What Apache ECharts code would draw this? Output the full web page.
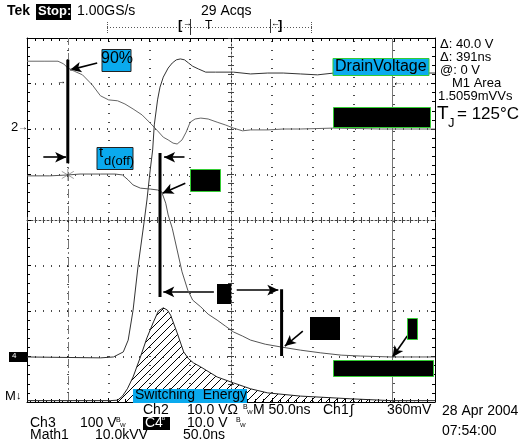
<!DOCTYPE html>
<html><head><meta charset="utf-8">
<script src="https://cdn.jsdelivr.net/npm/echarts@6/dist/echarts.min.js"></script>
<style>html,body{margin:0;padding:0;background:#fff}#c{width:527px;height:448px}</style>
</head><body><div id="c"></div>
<script>
// x: time in ns (50 ns/div, 10 div); y: screen divisions (-4..4)
const gateT = [0,22,38,45,50,58,68,80,90,100,111,120,130,141,151,160,167,173,179,184,190,195,200,206,213,222,233,243,253,264,274,295,314,335,376,434,500];
const gateV = [3.49,3.49,3.49,3.43,3.34,3.27,3.19,2.97,2.73,2.64,2.62,2.55,2.44,2.31,2.13,1.96,1.82,1.76,1.69,1.67,1.76,1.93,2.15,2.22,2.24,2.22,2.15,2.09,2.02,1.96,1.98,1.98,2.00,2.00,2.02,2.00,2.00];
const drainT = [0,90,106,118,124,130,136,143,147,151,154,156,160,163,167,173,178,183,188,193,198,203,210,219,231,253,274,295,314,335,356,376,434,500];
const drainV = [-3.01,-3.03,-3.01,-2.90,-2.64,-1.98,-1.03,-0.11,0.44,1.10,1.54,2.09,2.64,2.92,3.14,3.34,3.45,3.52,3.54,3.52,3.45,3.38,3.32,3.25,3.25,3.25,3.21,3.23,3.23,3.21,3.19,3.23,3.23,3.23];
const currentT = [0,28,50,65,90,108,117,124,130,139,151,160,165,170,173,178,184,190,197,203,213,222,233,243,253,264,274,292,311,335,360,385,409,446,500];
const currentV = [0.97,0.97,0.99,1.01,1.01,1.01,0.99,0.88,0.77,0.70,0.68,0.66,0.62,0.37,0.11,-0.18,-0.66,-1.14,-1.54,-1.76,-1.91,-2.07,-2.20,-2.33,-2.46,-2.55,-2.64,-2.73,-2.79,-2.86,-2.92,-2.97,-2.99,-3.01,-3.01];
const energyT = [0,102,111,117,123,130,139,147,155,161,167,172,176,184,192,198,204,213,233,253,274,295,335,397,446,500];
const energyV = [-3.97,-3.97,-3.96,-3.87,-3.71,-3.45,-3.01,-2.59,-2.24,-2.00,-1.93,-1.98,-2.09,-2.48,-2.90,-3.05,-3.14,-3.23,-3.45,-3.58,-3.71,-3.80,-3.87,-3.93,-3.97,-3.97];
const cursorT = [50, 447];
const gridT = [50,100,150,200,300,350,400,450];
const gridV = [-3,-2,-1,1,2,3];
const barLines = [[[50,3.52],[50,1.25]], [[163,1.47],[163,-1.69]], [[312,-1.52],[312,-2.99]]];
const arrowLines = [[[86,3.45],[53,3.30]],[[20,1.38],[48,1.38]],[[193,1.38],[168,1.38]],[[194,0.81],[166,0.59]],[[229,-1.58],[167,-1.58]],[[257,-1.54],[308,-1.54]],[[338,-2.44],[316,-2.77]],[[466,-2.55],[448,-3.01]]];
const crossPoint = [[50,0.99]];

const zip = (a,b) => a.map((v,i)=>[v,b[i]]);
const FONT = '"Liberation Sans", Arial, sans-serif';
const BLUE = '#0aaaee', GREEN = '#33cc33';
const GW = 408, GH = 364;

function hatch(){
  const c=document.createElement('canvas'); c.width=8; c.height=8;
  const g=c.getContext('2d'); g.strokeStyle='#000'; g.lineWidth=1;
  g.beginPath(); g.moveTo(0,8); g.lineTo(8,0); g.moveTo(-2,2); g.lineTo(2,-2); g.moveTo(6,10); g.lineTo(10,6); g.stroke();
  return c;
}

// frame axes: placed on the opposite border via negative offset, so "outside" ticks point into the plot
function frameAxis(extra){
  return Object.assign({type:'value', gridIndex:0, axisLabel:{show:false},
    axisLine:{show:true,onZero:false,lineStyle:{color:'#000',width:1}},
    axisTick:{show:true,inside:false,length:4,lineStyle:{color:'#000',width:1}},
    minorTick:{show:true,splitNumber:5,length:3,lineStyle:{color:'#000',width:1}},
    splitLine:{show:false}}, extra);
}
function centerAxis(extra){
  return Object.assign({type:'value', gridIndex:1, axisLabel:{show:false},
    axisLine:{show:true,onZero:true,lineStyle:{color:'#444',width:1,type:[2,2]}},
    axisTick:{show:true,inside:false,length:3,lineStyle:{color:'#444'}},
    minorTick:{show:true,splitNumber:5,length:3,lineStyle:{color:'#444'}},
    splitLine:{show:false}}, extra);
}

const G = [];
function T(x,y,s,o){ o=o||{}; G.push({type:'text',x:x,y:y,z:100,style:{text:s,font:(o.w||'normal')+' '+(o.size||14)+'px '+FONT,fill:o.fill||'#000',verticalAlign:'top',textVerticalAlign:'top'}}); }
function R(x,y,w,h,fill,stroke){ G.push({type:'rect',z:90,shape:{x:x,y:y,width:w,height:h},style:{fill:fill,stroke:stroke||null,lineWidth:stroke?1:0}}); }
function L(x1,y1,x2,y2,o){ o=o||{}; G.push({type:'line',z:90,shape:{x1:x1,y1:y1,x2:x2,y2:y2},style:{stroke:o.c||'#000',lineWidth:o.w||1,lineDash:o.dash||null}}); }
function BW(x,y,fill){ T(x,y,'B',{size:7,fill:fill}); T(x+4,y+5,'W',{size:6,fill:fill}); }

// header
T(7,4,'Tek',{w:'bold',size:14});
R(36,4,35,16,'#000'); T(38,5,'Stop:',{w:'bold',size:13,fill:'#fff'});
T(77,4,'1.00GS/s',{size:14});
T(201,4,'29 Acqs',{size:14});
L(107,27.5,312,27.5,{c:'#555',dash:[1,2]}); L(107.5,22,107.5,33,{c:'#555',dash:[1,1]}); L(311.5,22,311.5,33,{c:'#555',dash:[1,1]});
T(178,19,'[',{size:13,w:'bold'}); T(183,19,'→',{size:9}); L(190.5,19,190.5,35,{c:'#333'});
T(205,20,'T',{size:12}); L(270.5,19,270.5,33,{c:'#333'}); T(271,19,'←',{size:9}); T(278,19,']',{size:13,w:'bold'});
// right readouts
T(440,38,'Δ: 40.0 V',{size:13}); T(440,51,'Δ: 391ns',{size:13}); T(440,64,'@: 0 V',{size:13});
T(452,77,'M1 Area',{size:13}); T(438,90,'1.5059mVVs',{size:13});
T(437,104,'T',{size:19}); T(448,117,'J',{size:13}); T(457,106,'= 125°C',{size:17});
// blue labels
R(102,49.5,29,22,BLUE,'#222'); T(101,51,'90%',{size:16});
R(97,147.5,36,22,BLUE,'#222'); T(99,145,'t',{size:15}); T(104,155,'d(off)',{size:13});
R(333,58.5,96,17,BLUE,GREEN); T(335,59,'DrainVoltage',{size:16});
R(133,389,114,14,BLUE); T(135,388,'Switching  Energy',{size:14});
// black boxes
R(333.5,107.5,97,20,'#000',GREEN); R(190.5,169.5,30,22,'#000',GREEN); R(217,284,14,20,'#000');
R(310,317,30,23,'#000'); R(407.5,318.5,10,21,'#000',GREEN); R(333.5,360.5,100,16,'#000',GREEN);
// left markers
T(11,121,'2',{size:13}); T(18,122,'→',{size:10}); R(9,352,18,10,'#000'); T(12,352,'4',{size:8,fill:'#fff'}); T(5,390,'M',{size:13}); T(16,390,'↓',{size:11});
T(57,77,'→',{size:9}); T(393,77,'←',{size:10});
// bottom readouts
T(143,403,'Ch2'); T(187,403,'10.0 VΩ'); BW(243,404); T(253,403,'M 50.0ns'); T(323,403,'Ch1'); T(350,403,'∫'); T(387,403,'360mV');
T(30,416,'Ch3'); T(80,416,'100 V'); BW(116,417); R(143,417,27,13,'#000'); T(145,416,'C4',{fill:'#fff'}); T(162,417,'ᴰ',{size:7,fill:'#fff'});
T(187,416,'10.0 V'); BW(236,417);
T(30,428,'Math1'); T(95,428,'10.0kVV'); T(183,428,'50.0ns');
T(442,404,'28 Apr 2004'); T(442,424,'07:54:00');

const traceStyle = (c)=>({type:'line',showSymbol:false,symbol:'none',silent:true,z:5,lineStyle:{color:c,width:1}});
const dotStyleV = {color:'#111',width:1.5,type:[1,8]};
const dotStyleH = {color:'#111',width:1.5,type:[1,7]};
const series = [
  {type:'line',data:[],silent:true,markLine:{silent:true,symbol:['none','none'],label:{show:false},
    data:gridT.map(t=>({xAxis:t,lineStyle:dotStyleV})).concat(gridV.map(v=>({yAxis:v,lineStyle:dotStyleH})))}},
  Object.assign(traceStyle('#666'),{name:'gate',data:zip(gateT,gateV)}),
  Object.assign(traceStyle('#333'),{name:'drain',data:zip(drainT,drainV)}),
  Object.assign(traceStyle('#555'),{name:'current',data:zip(currentT,currentV)}),
  Object.assign(traceStyle('#222'),{name:'energy',data:zip(energyT,energyV),areaStyle:{origin:'start',color:{image:hatch(),repeat:'repeat'},opacity:1}}),
  {type:'line',data:[],silent:true,markLine:{silent:true,symbol:['none','none'],label:{show:false},
    data:[{xAxis:cursorT[0],lineStyle:{color:'#777',width:1,type:[9,3,2,3]}},{xAxis:cursorT[1],lineStyle:{color:'#777',width:1,type:'solid'}}]}},
  {type:'line',data:[],silent:true,z:8,markLine:{silent:true,symbol:['none','arrow'],symbolSize:[8,11],label:{show:false},
    lineStyle:{color:'#000',width:1.6,type:'solid'},data:arrowLines.map(a=>[{coord:a[0]},{coord:a[1]}])}},
  {type:'scatter',data:crossPoint,symbol:'path://M5,0L5,10M0,2L10,8M0,8L10,2',symbolSize:12,silent:true,
    itemStyle:{color:'none',borderColor:'#888',borderWidth:1}}
].concat(barLines.map(b=>({type:'line',data:b,symbol:'none',silent:true,z:8,lineStyle:{color:'#000',width:3}})));

const chart = echarts.init(document.getElementById('c'),null,{renderer:'canvas'});
chart.setOption({
  animation:false, backgroundColor:'#fff',
  grid:[{left:27,top:38,width:GW,height:GH,containLabel:false},{left:27,top:38,width:GW,height:GH,containLabel:false}],
  xAxis:[
    frameAxis({min:0,max:500,interval:50,position:'top',offset:-GH}),
    frameAxis({min:0,max:500,interval:50,position:'bottom',offset:-GH}),
    centerAxis({min:-5,max:5,interval:1,position:'bottom'}),
    centerAxis({min:-5,max:5,interval:1,position:'top',axisLine:{show:false,onZero:true}})
  ],
  yAxis:[
    frameAxis({min:-4,max:4,interval:1,position:'right',offset:-GW}),
    frameAxis({min:-4,max:4,interval:1,position:'left',offset:-GW}),
    centerAxis({min:-4,max:4,interval:1,position:'left'}),
    centerAxis({min:-4,max:4,interval:1,position:'right',axisLine:{show:false,onZero:true}})
  ],
  series: series,
  graphic: G
});
</script></body></html>
